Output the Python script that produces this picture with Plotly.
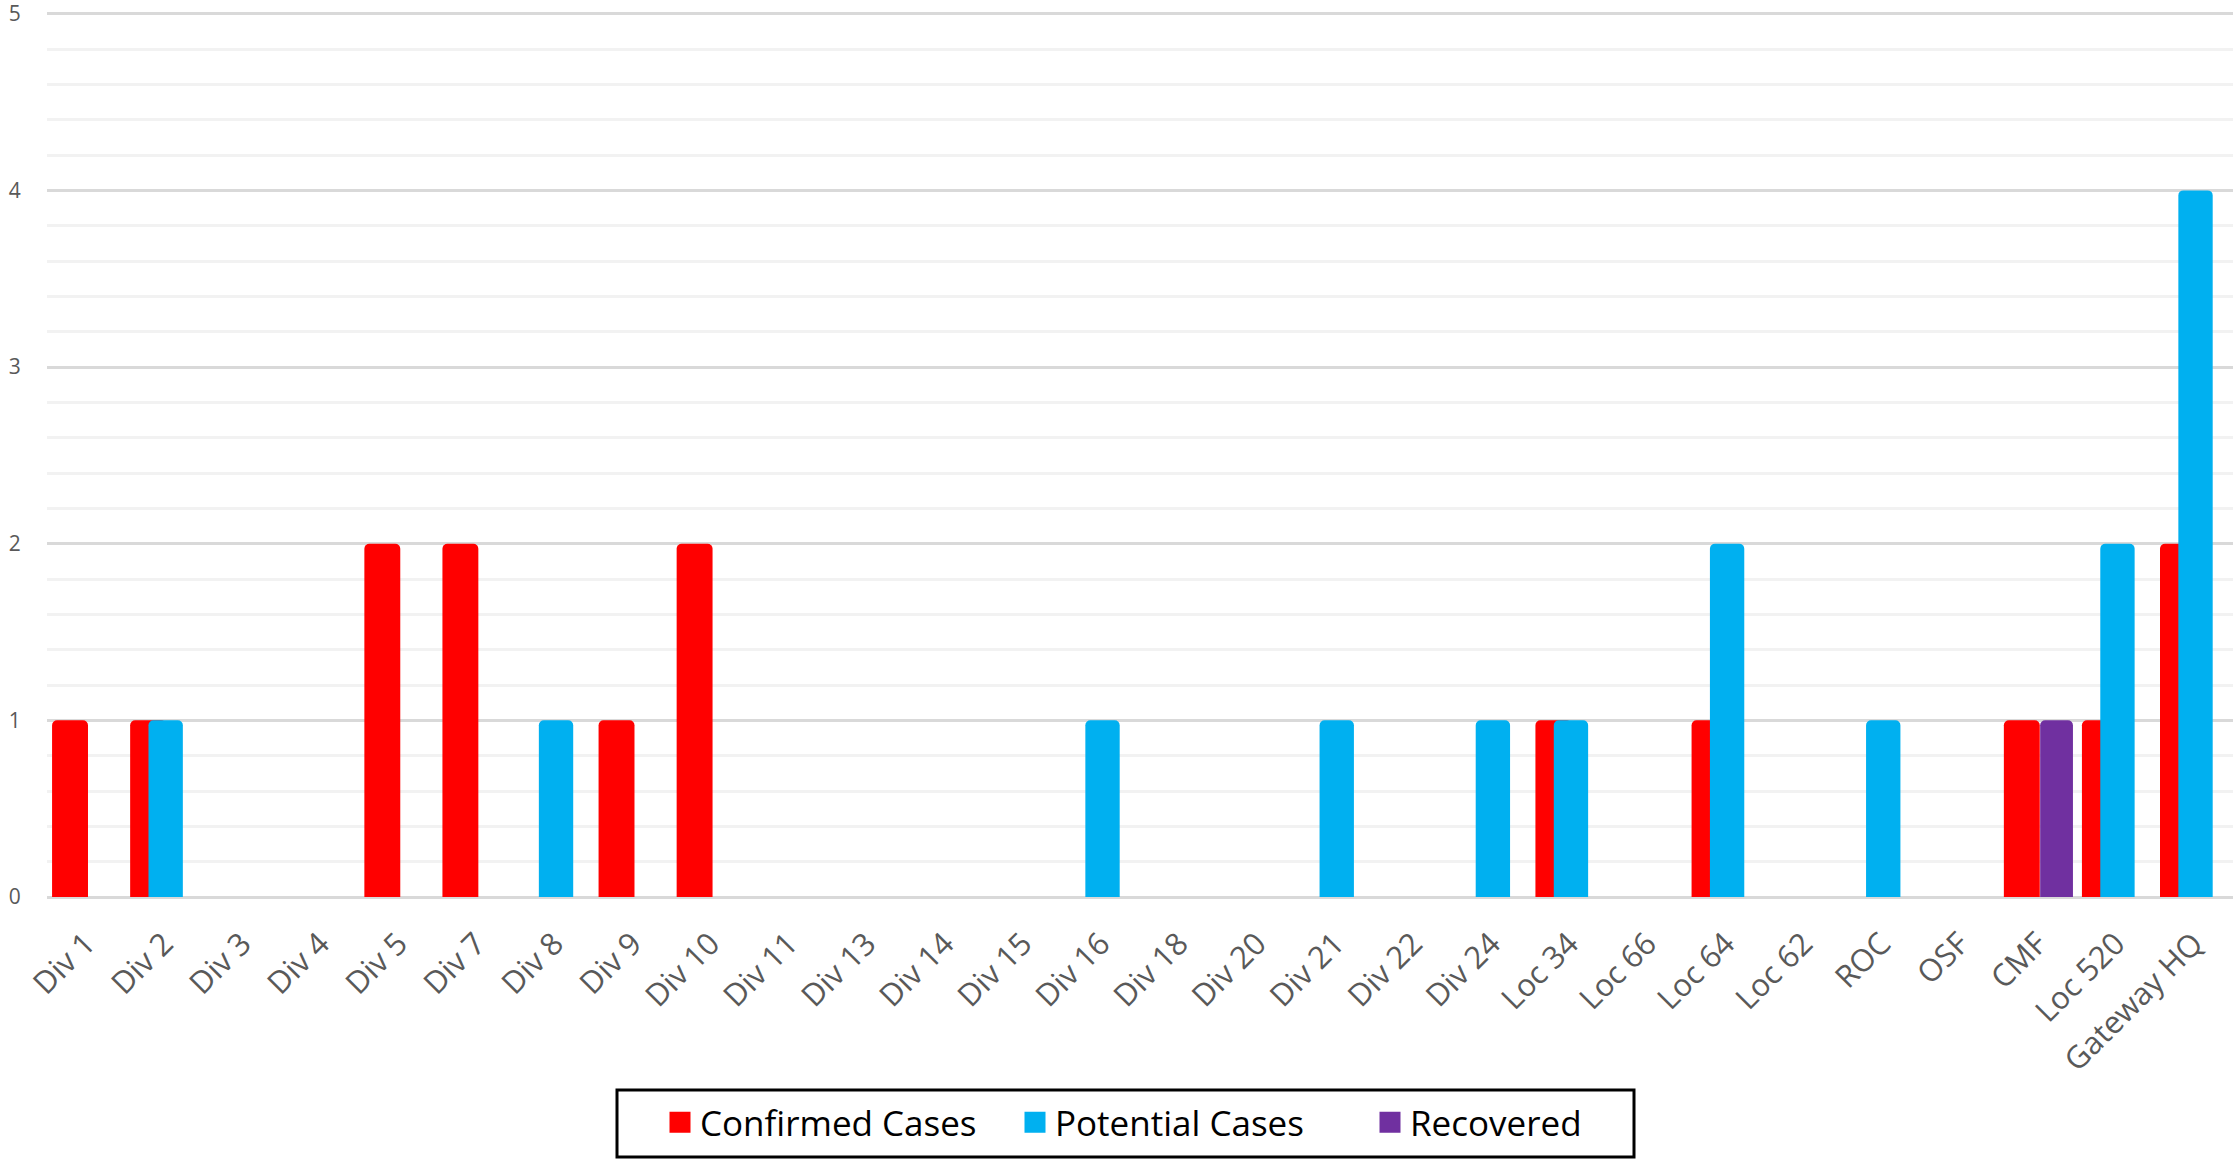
import plotly.graph_objects as go

categories = ["Div 1", "Div 2", "Div 3", "Div 4", "Div 5", "Div 7", "Div 8", "Div 9",
              "Div 10", "Div 11", "Div 13", "Div 14", "Div 15", "Div 16", "Div 18",
              "Div 20", "Div 21", "Div 22", "Div 24", "Loc 34", "Loc 66", "Loc 64",
              "Loc 62", "ROC", "OSF", "CMF", "Loc 520", "Gateway HQ"]
confirmed = [1, 1, 0, 0, 2, 2, 0, 1, 2, 0, 0, 0, 0, 0, 0, 0, 0, 0, 0, 1, 0, 1, 0, 0, 0, 1, 1, 2]
potential = [0, 1, 0, 0, 0, 0, 1, 0, 0, 0, 0, 0, 0, 1, 0, 0, 1, 0, 1, 1, 0, 2, 0, 1, 0, 0, 2, 4]
recovered = [0, 0, 0, 0, 0, 0, 0, 0, 0, 0, 0, 0, 0, 0, 0, 0, 0, 0, 0, 0, 0, 0, 0, 0, 0, 1, 0, 0]
y_ticks = [0, 1, 2, 3, 4, 5]

series = [
    ("Confirmed Cases", confirmed, "#FF0000", -0.435, 0.46),
    ("Potential Cases", potential, "#00B0F0", -0.20, 0.44),
    ("Recovered", recovered, "#7030A0", 0.03, 0.42),
]

W, H = 2233, 1159
L, R, T, B = 47, 0, 12, 262
PW, PH = W - L - R, H - T - B


def px_x(x):
    return (x - L) / PW


def px_y(y):
    return (H - B - y) / PH


FONT = "Open Sans"
fig = go.Figure()
for name, vals, color, off, w in series:
    fig.add_trace(go.Bar(
        x=categories, y=[v if v else None for v in vals], name=name,
        marker=dict(color=color, cornerradius=5, line=dict(width=0)),
        offset=off, width=w, showlegend=False, legendgroup=name,
    ))
for name, vals, color, off, w in series:
    fig.add_trace(go.Scatter(
        x=[None], y=[None], mode="markers", name=name, legendgroup=name,
        marker=dict(symbol="square", size=16, color=color, line=dict(color=color, width=5)),
    ))

# legend frame
fig.add_shape(type="rect", xref="paper", yref="paper",
              x0=px_x(617), x1=px_x(1634), y0=px_y(1157), y1=px_y(1090),
              line=dict(color="black", width=3), fillcolor="rgba(0,0,0,0)")

fig.update_layout(
    width=W, height=H,
    margin=dict(l=L, r=R, t=T, b=B, autoexpand=False),
    paper_bgcolor="white", plot_bgcolor="white",
    barmode="overlay",
    font=dict(family=FONT, color="#595959"),
    legend=dict(
        orientation="h", x=px_x(660), xanchor="left", y=px_y(1093), yanchor="top",
        borderwidth=0, bgcolor="rgba(0,0,0,0)",
        font=dict(family=FONT, size=35, color="black"),
        itemsizing="trace", entrywidth=310,
    ),
    xaxis=dict(
        type="category", range=[-0.5, len(categories) - 0.5], automargin=False,
        tickangle=-45, tickfont=dict(size=31, color="#595959"),
        ticks="outside", ticklen=15, tickcolor="rgba(0,0,0,0)",
        showgrid=False, showline=False, zeroline=False,
    ),
    yaxis=dict(
        range=[0, 5.01], tickvals=y_ticks, automargin=False,
        tickfont=dict(size=21, color="#595959"), ticklabeloverflow="allow",
        showgrid=True, gridcolor="#D9D9D9", gridwidth=3,
        zeroline=True, zerolinecolor="#D9D9D9", zerolinewidth=3,
        minor=dict(dtick=0.2, showgrid=True, gridcolor="#F2F2F2", gridwidth=2.5),
        ticks="outside", ticklen=21, tickcolor="rgba(0,0,0,0)",
        showline=False,
    ),
)

fig.write_html("out.html", config={"displayModeBar": False},
               post_script="document.body.style.margin='0';")
